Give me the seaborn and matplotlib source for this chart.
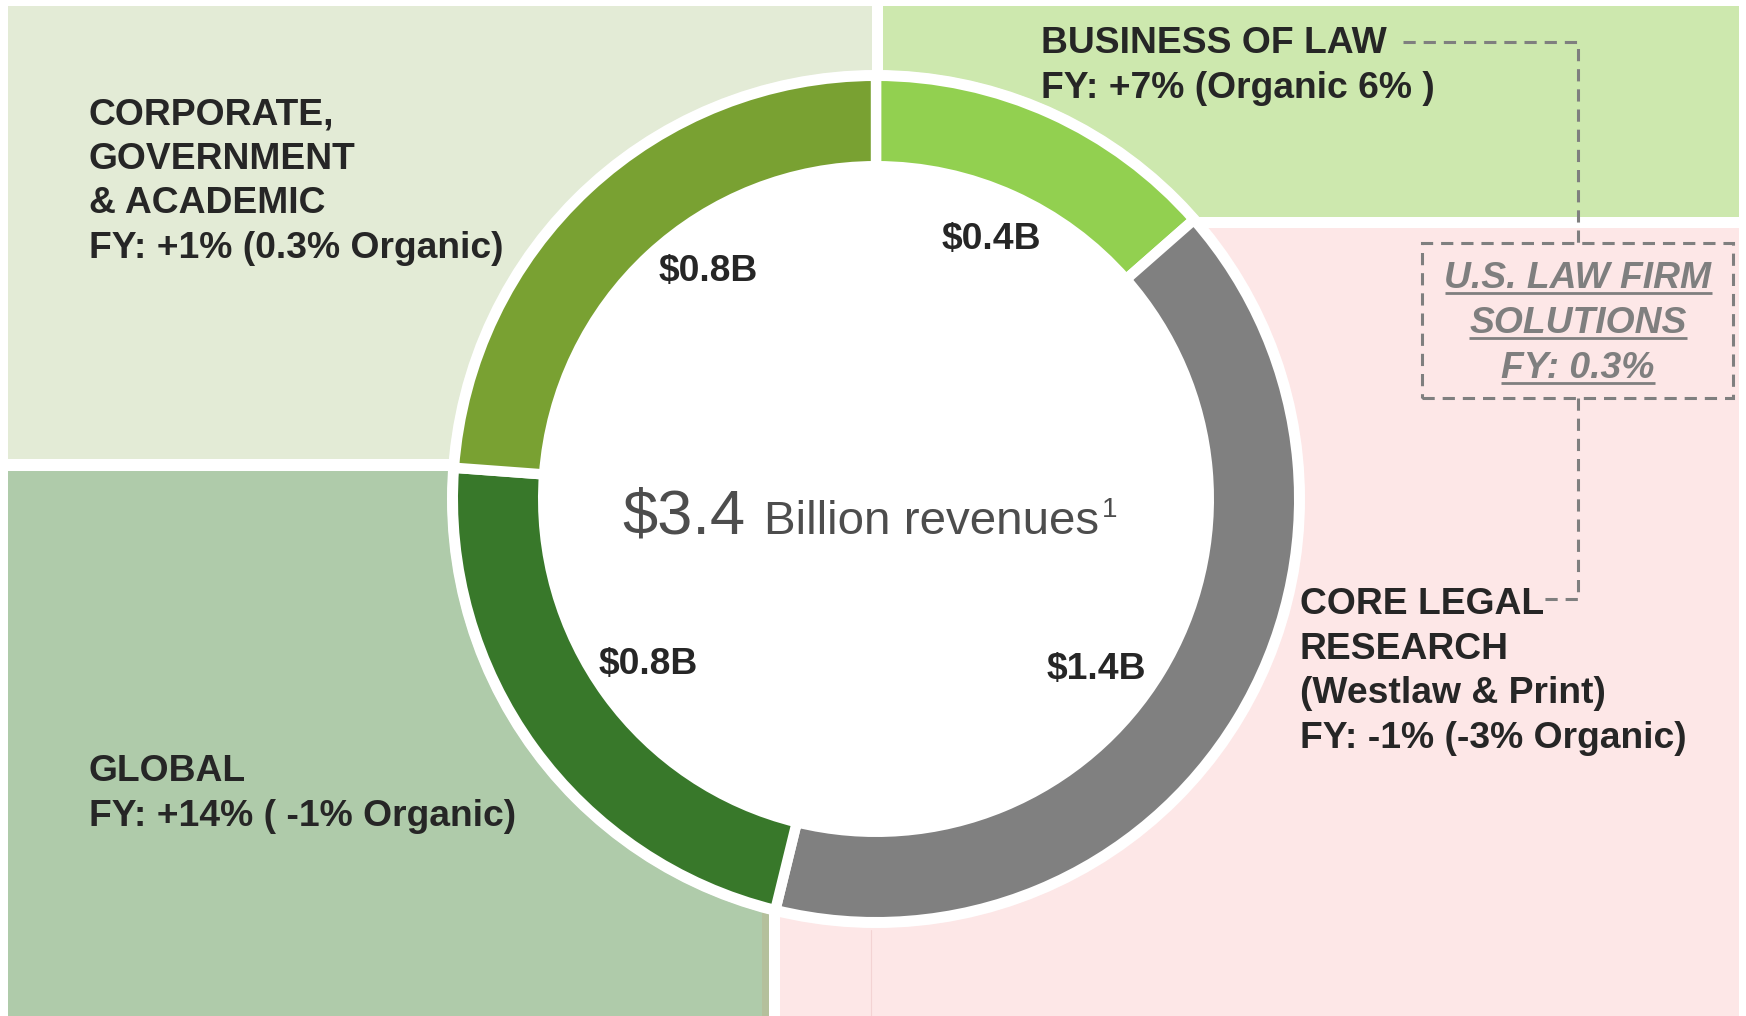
import matplotlib
matplotlib.use("Agg")
import matplotlib.pyplot as plt
import numpy as np
import seaborn as sns
from matplotlib.patches import Rectangle, Circle

# Segment data (clockwise from 12 o'clock)
segments = ["Business of Law", "Core Legal Research", "Global",
            "Corporate, Government & Academic"]
revenue = [0.46, 1.37, 0.76, 0.81]          # $B
value_labels = ["$0.4B", "$1.4B", "$0.8B", "$0.8B"]
ring_colors = ["#92d050", "#808080", "#38782a", "#79a132"]

total_label = "$3.4"
total_text = "Billion revenues"

corp_lines = ["CORPORATE,", "GOVERNMENT", "& ACADEMIC", "FY: +1% (0.3% Organic)"]
bol_lines = ["BUSINESS OF LAW", "FY: +7% (Organic 6% )"]
core_lines = ["CORE LEGAL", "RESEARCH", "(Westlaw & Print)", "FY: -1% (-3% Organic)"]
global_lines = ["GLOBAL", "FY: +14% ( -1% Organic)"]
firm_lines = ["U.S. LAW FIRM", "SOLUTIONS", "FY: 0.3%"]

sns.set_theme(style="white")
plt.rcParams["font.family"] = ["Liberation Sans", "DejaVu Sans"]

W, H = 1746, 1016
fig = plt.figure(figsize=(W / 100, H / 100), dpi=100)
ax = fig.add_axes([0, 0, 1, 1])


def fy(y):
    # image rows -> data y
    return H - y


def box(x0, y0, x1, y1, color, z=0):
    ax.add_patch(Rectangle((x0, fy(y1)), x1 - x0, y1 - y0, facecolor=color,
                           edgecolor="none", zorder=z))


# background panels
box(8, 6, 872, 459, "#e3ebd6")
box(883, 6, 1739, 217, "#cde8ae")
box(780, 228, 1739, 1016, "#fde7e7")
box(8, 471, 769, 1016, "#afcbaa")
box(762, 900, 769, 1016, "#b4c09c")
ax.plot([871, 871], [fy(930), fy(1016)], color="#f3d3d3", lw=0.8, zorder=0.2)

cx, cy = 876, fy(499)
ax.add_patch(Circle((cx, cy), 429, facecolor="white", edgecolor="none", zorder=0.5))

lw_pt = 7.5
lw_px = lw_pt * 100 / 72
wedges, _ = ax.pie(revenue, colors=ring_colors, startangle=90, counterclock=False,
                   center=(cx, cy), radius=418 + lw_px / 2, frame=True,
                   wedgeprops=dict(width=80 + lw_px, edgecolor="white",
                                   linewidth=lw_pt))

dark = "#262626"
fs = 26.8
# value labels sit inside the hole; a few are nudged clockwise like the original
label_shift = [-0.5, 6.5, 0, 6.5]
label_r = [284, 279, 281, 283]
for w, lab, sh, r in zip(wedges, value_labels, label_shift, label_r):
    mid = np.deg2rad((w.theta1 + w.theta2) / 2 - sh)
    ax.text(cx + r * np.cos(mid), cy + r * np.sin(mid), lab, ha="center",
            va="center", fontsize=fs, fontweight="bold", color=dark, zorder=3)


def block(x, baselines, lines, **kw):
    for b, s in zip(baselines, lines):
        ax.text(x, fy(b), s, ha="left", va="baseline", fontsize=fs,
                fontweight="bold", color=dark, zorder=3, **kw)


block(89, [124, 169, 213, 258], corp_lines)
block(1041, [53, 98], bol_lines)
block(1300, [614, 659, 703, 748], core_lines)
block(89, [781, 826], global_lines)

# centre total
grey = "#4d4d4d"
ax.text(622, fy(534), total_label, ha="left", va="baseline", fontsize=45.5,
        color=grey, zorder=3)
rev_t = ax.text(764, fy(534), total_text, ha="left", va="baseline", fontsize=34.2,
                color=grey, zorder=3)

# U.S. law firm call-out
dash_grey = "#7f7f7f"
dash = (0, (4, 2.6))
ax.add_patch(Rectangle((1422, fy(398)), 1733 - 1422, 398 - 243, facecolor="none",
                       edgecolor=dash_grey, lw=2.2, linestyle=dash, zorder=2))
ax.plot([1403, 1578, 1578], [fy(42), fy(42), fy(243)], color=dash_grey, lw=2.2,
        linestyle=dash, zorder=2)
ax.plot([1578, 1578, 1542], [fy(398), fy(599), fy(599)], color=dash_grey, lw=2.2,
        linestyle=dash, zorder=2)

firm_base = [288, 333, 378]
firm_texts = []
for b, s in zip(firm_base, firm_lines):
    firm_texts.append(ax.text(1578, fy(b), s, ha="center", va="baseline",
                              fontsize=26.8, fontweight="bold", style="italic",
                              color=dash_grey, zorder=3))

ax.set_xlim(0, W)
ax.set_ylim(0, H)
ax.set_axis_off()

fig.canvas.draw()
# footnote marker right after the text
bb = rev_t.get_window_extent()
ax.text(bb.x1 + 3, fy(517), "1", ha="left", va="baseline", fontsize=20,
        color=grey, zorder=3)
# underlines for the call-out text
for t, b in zip(firm_texts, firm_base):
    bb = t.get_window_extent()
    ax.plot([bb.x0, bb.x1], [fy(b + 5), fy(b + 5)], color=dash_grey, lw=2,
            solid_capstyle="butt", zorder=3)

fig.savefig("out.png", dpi=100, facecolor="white")
